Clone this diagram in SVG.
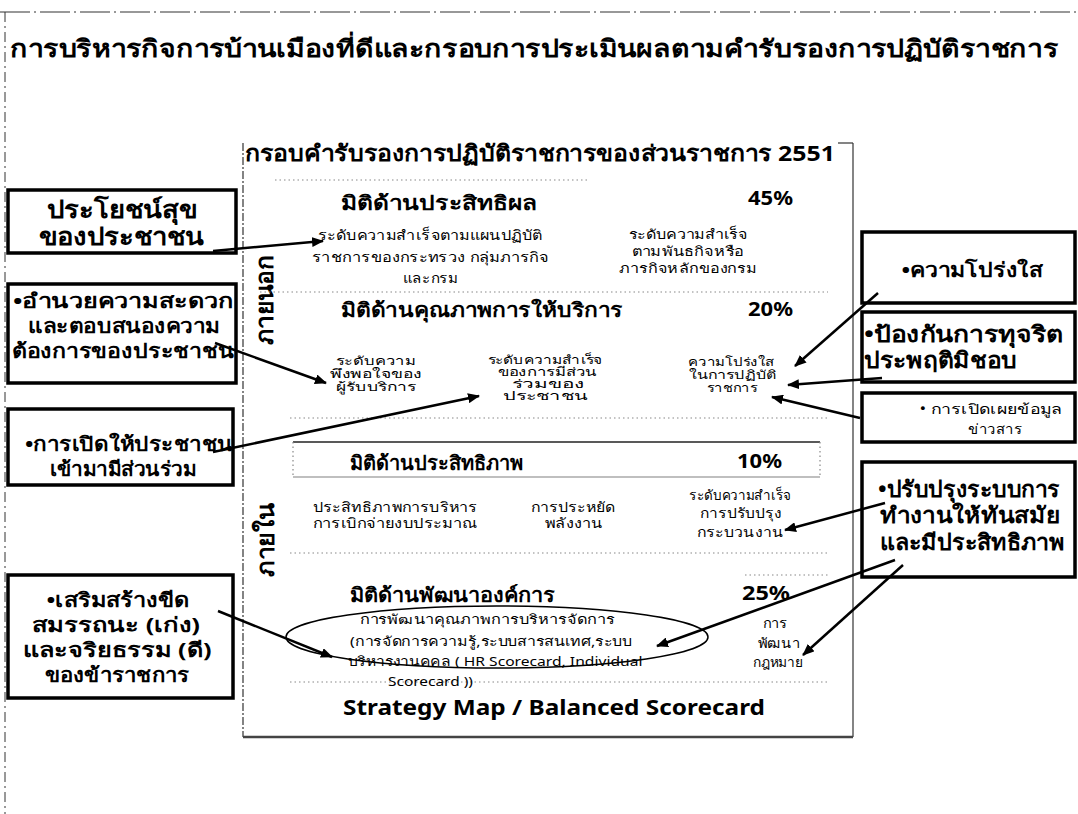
<svg xmlns="http://www.w3.org/2000/svg" width="1078" height="814" viewBox="0 0 1078 814">
<style>
text{font-family:"Noto Sans","DejaVu Sans",sans-serif;fill:#000}
.b{font-weight:bold}
.m{text-anchor:middle}
.box{fill:#fff;stroke:#000;stroke-width:3.5}
.dot{stroke:#888;stroke-width:1.2;stroke-dasharray:1.5 3;fill:none}
.frame{stroke:#333;stroke-width:1.2;fill:none}
.conn line{stroke:#000;stroke-width:2.5;marker-end:url(#ah)}
.t24{font-size:24px}.t22{font-size:22px}.t20{font-size:20px}.t18{font-size:18px}.t16{font-size:16px}.t14{font-size:14px}.t13{font-size:13px}.t12{font-size:12px}
</style>
<defs>
<marker id="ah" viewBox="0 0 12 10" refX="11" refY="5" markerWidth="12" markerHeight="10" markerUnits="userSpaceOnUse" orient="auto">
<path d="M0,0 L12,5 L0,10 Z" fill="#000"/>
</marker>
</defs>
<rect width="1078" height="814" fill="#fff"/>
<g id="page">
<line x1="0" y1="12" x2="1078" y2="12" stroke="#333" stroke-width="1.2" stroke-dasharray="30 4 2 4"/>
<line x1="5" y1="12" x2="5" y2="814" stroke="#333" stroke-width="1" stroke-dasharray="10 4 2 4"/>
<text class="b t24" x="10" y="57" textLength="1048" lengthAdjust="spacingAndGlyphs">การบริหารกิจการบ้านเมืองที่ดีและกรอบการประเมินผลตามคำรับรองการปฏิบัติราชการ</text>
</g>
<g id="frame">
<line class="frame" x1="243" y1="143" x2="243" y2="737" stroke-dasharray="8 2 2 2"/>
<line class="frame" x1="838" y1="143" x2="853" y2="143"/>
<line class="frame" x1="853" y1="143" x2="853" y2="737"/>
<line x1="243" y1="737" x2="853" y2="737" stroke="#444" stroke-width="2.5"/>
<text class="b t22" x="245" y="161" textLength="590" lengthAdjust="spacingAndGlyphs">กรอบคำรับรองการปฏิบัติราชการของส่วนราชการ 2551</text>
<text class="b t24" transform="translate(273,300) rotate(-90)" text-anchor="middle" textLength="90" lengthAdjust="spacingAndGlyphs">ภายนอก</text>
<text class="b t24" transform="translate(274,540) rotate(-90)" text-anchor="middle" textLength="74" lengthAdjust="spacingAndGlyphs">ภายใน</text>
<line class="dot" x1="275" y1="180" x2="590" y2="180"/>
<line class="dot" x1="260" y1="292" x2="828" y2="292"/>
<line class="dot" x1="290" y1="418" x2="828" y2="418"/>
<line class="dot" x1="290" y1="553" x2="828" y2="553"/>
<line class="dot" x1="290" y1="682" x2="828" y2="682"/>
<line class="dot" x1="745" y1="575" x2="828" y2="575"/>
</g>
<g id="effectiveness">
<text class="b t20" x="341" y="210" textLength="196" lengthAdjust="spacingAndGlyphs">มิติด้านประสิทธิผล</text>
<text class="b t20" x="748" y="205" textLength="45" lengthAdjust="spacingAndGlyphs">45%</text>
<text class="t14 m" x="430" y="240" textLength="225" lengthAdjust="spacingAndGlyphs">ระดับความสำเร็จตามแผนปฏิบัติ</text>
<text class="t14 m" x="430" y="262" textLength="236" lengthAdjust="spacingAndGlyphs">ราชการของกระทรวง กลุ่มภารกิจ</text>
<text class="t14 m" x="430" y="283" textLength="55" lengthAdjust="spacingAndGlyphs">และกรม</text>
<text class="t13 m" x="688" y="239" textLength="119" lengthAdjust="spacingAndGlyphs">ระดับความสำเร็จ</text>
<text class="t13 m" x="688" y="256" textLength="113" lengthAdjust="spacingAndGlyphs">ตามพันธกิจหรือ</text>
<text class="t13 m" x="688" y="273" textLength="138" lengthAdjust="spacingAndGlyphs">ภารกิจหลักของกรม</text>
</g>
<g id="quality">
<text class="b t20" x="341" y="317" textLength="282" lengthAdjust="spacingAndGlyphs">มิติด้านคุณภาพการให้บริการ</text>
<text class="b t20" x="748" y="316" textLength="45" lengthAdjust="spacingAndGlyphs">20%</text>
<text class="t12 m" x="376" y="365" textLength="80" lengthAdjust="spacingAndGlyphs">ระดับความ</text>
<text class="t12 m" x="376" y="378" textLength="92" lengthAdjust="spacingAndGlyphs">พึงพอใจของ</text>
<text class="t12 m" x="376" y="391" textLength="80" lengthAdjust="spacingAndGlyphs">ผู้รับบริการ</text>
<text class="t12 m" x="545" y="364" textLength="115" lengthAdjust="spacingAndGlyphs">ระดับความสำเร็จ</text>
<text class="t12 m" x="547" y="376" textLength="99" lengthAdjust="spacingAndGlyphs">ของการมีส่วน</text>
<text class="t12 m" x="548" y="388" textLength="73" lengthAdjust="spacingAndGlyphs">ร่วมของ</text>
<text class="t12 m" x="545" y="400" textLength="85" lengthAdjust="spacingAndGlyphs">ประชาชน</text>
<text class="t12 m" x="731" y="366" textLength="86" lengthAdjust="spacingAndGlyphs">ความโปร่งใส</text>
<text class="t12 m" x="733" y="379" textLength="88" lengthAdjust="spacingAndGlyphs">ในการปฏิบัติ</text>
<text class="t12 m" x="732" y="392" textLength="50" lengthAdjust="spacingAndGlyphs">ราชการ</text>
</g>
<g id="efficiency">
<line x1="293" y1="442" x2="820" y2="442" stroke="#222" stroke-width="1.5"/>
<line class="dot" x1="293" y1="442" x2="293" y2="477"/>
<line class="dot" x1="820" y1="442" x2="820" y2="477"/>
<line x1="293" y1="477" x2="820" y2="477" stroke="#aaa" stroke-width="1.5"/>
<text class="b t20" x="350" y="470" textLength="173" lengthAdjust="spacingAndGlyphs">มิติด้านประสิทธิภาพ</text>
<text class="b t20" x="737" y="468" textLength="45" lengthAdjust="spacingAndGlyphs">10%</text>
<text class="t14 m" x="395" y="512" textLength="165" lengthAdjust="spacingAndGlyphs">ประสิทธิภาพการบริหาร</text>
<text class="t14 m" x="395" y="528" textLength="165" lengthAdjust="spacingAndGlyphs">การเบิกจ่ายงบประมาณ</text>
<text class="t14 m" x="573" y="512" textLength="85" lengthAdjust="spacingAndGlyphs">การประหยัด</text>
<text class="t14 m" x="574" y="528" textLength="58" lengthAdjust="spacingAndGlyphs">พลังงาน</text>
<text class="t14 m" x="740" y="500" textLength="102" lengthAdjust="spacingAndGlyphs">ระดับความสำเร็จ</text>
<text class="t14 m" x="741" y="518" textLength="82" lengthAdjust="spacingAndGlyphs">การปรับปรุง</text>
<text class="t14 m" x="740" y="537" textLength="86" lengthAdjust="spacingAndGlyphs">กระบวนงาน</text>
</g>
<g id="development">
<text class="b t20" x="350" y="602" textLength="205" lengthAdjust="spacingAndGlyphs">มิติด้านพัฒนาองค์การ</text>
<text class="b t20" x="742" y="600" textLength="48" lengthAdjust="spacingAndGlyphs">25%</text>
<ellipse cx="497" cy="637" rx="211" ry="31" fill="none" stroke="#000" stroke-width="1.5"/>
<text class="t13 m" x="487" y="624" textLength="255" lengthAdjust="spacingAndGlyphs">การพัฒนาคุณภาพการบริหารจัดการ</text>
<text class="t13 m" x="491" y="646" textLength="282" lengthAdjust="spacingAndGlyphs">(การจัดการความรู้,ระบบสารสนเทศ,ระบบ</text>
<text class="t13 m" x="495" y="666" textLength="295" lengthAdjust="spacingAndGlyphs">บริหารงานคคล ( HR Scorecard, Individual</text>
<text class="t13" x="388" y="686" textLength="85" lengthAdjust="spacingAndGlyphs">Scorecard ))</text>
<text class="t14 m" x="775" y="628" textLength="25" lengthAdjust="spacingAndGlyphs">การ</text>
<text class="t14 m" x="779" y="648" textLength="42" lengthAdjust="spacingAndGlyphs">พัฒนา</text>
<text class="t14 m" x="778" y="667" textLength="50" lengthAdjust="spacingAndGlyphs">กฎหมาย</text>
<text class="b t22" x="343" y="715" textLength="422" lengthAdjust="spacingAndGlyphs">Strategy Map / Balanced Scorecard</text>
</g>
<g id="left1">
<rect class="box" x="8" y="190" width="228" height="63"/>
<text class="b t24 m" x="122" y="218" textLength="150" lengthAdjust="spacingAndGlyphs">ประโยชน์สุข</text>
<text class="b t24 m" x="121" y="245" textLength="165" lengthAdjust="spacingAndGlyphs">ของประชาชน</text>
</g>
<g id="left2">
<rect class="box" x="8" y="284" width="228" height="99"/>
<text class="b t20 m" x="123" y="308" textLength="220" lengthAdjust="spacingAndGlyphs">•อำนวยความสะดวก</text>
<text class="b t20 m" x="124" y="333" textLength="192" lengthAdjust="spacingAndGlyphs">และตอบสนองความ</text>
<text class="b t20 m" x="123" y="358" textLength="223" lengthAdjust="spacingAndGlyphs">ต้องการของประชาชน</text>
</g>
<g id="left3">
<rect class="box" x="8" y="409" width="225" height="76"/>
<text class="b t20 m" x="129" y="451" textLength="208" lengthAdjust="spacingAndGlyphs">•การเปิดให้ประชาชน</text>
<text class="b t20 m" x="123" y="476" textLength="147" lengthAdjust="spacingAndGlyphs">เข้ามามีส่วนร่วม</text>
</g>
<g id="left4">
<rect class="box" x="8" y="575" width="225" height="123"/>
<text class="b t20 m" x="118" y="607" textLength="143" lengthAdjust="spacingAndGlyphs">•เสริมสร้างขีด</text>
<text class="b t20 m" x="116" y="632" textLength="168" lengthAdjust="spacingAndGlyphs">สมรรถนะ (เก่ง)</text>
<text class="b t20 m" x="117" y="657" textLength="189" lengthAdjust="spacingAndGlyphs">และจริยธรรม (ดี)</text>
<text class="b t20 m" x="117" y="682" textLength="145" lengthAdjust="spacingAndGlyphs">ของข้าราชการ</text>
</g>
<g id="right1">
<rect class="box" x="862" y="232" width="213" height="71"/>
<text class="b t20 m" x="972" y="277" textLength="141" lengthAdjust="spacingAndGlyphs">•ความโปร่งใส</text>
</g>
<g id="right2">
<rect class="box" x="862" y="312" width="213" height="70"/>
<text class="b t22" x="864" y="342" textLength="199" lengthAdjust="spacingAndGlyphs">•ป้องกันการทุจริต</text>
<text class="b t22" x="864" y="368" textLength="153" lengthAdjust="spacingAndGlyphs">ประพฤติมิชอบ</text>
</g>
<g id="right3">
<rect class="box" x="862" y="393" width="213" height="49"/>
<text class="t14 m" x="991" y="414" textLength="143" lengthAdjust="spacingAndGlyphs">• การเปิดเผยข้อมูล</text>
<text class="t14 m" x="995" y="434" textLength="54" lengthAdjust="spacingAndGlyphs">ข่าวสาร</text>
</g>
<g id="right4">
<rect class="box" x="862" y="462" width="213" height="115"/>
<text class="b t22" x="878" y="497" textLength="182" lengthAdjust="spacingAndGlyphs">•ปรับปรุงระบบการ</text>
<text class="b t22" x="880" y="523" textLength="180" lengthAdjust="spacingAndGlyphs">ทำงานให้ทันสมัย</text>
<text class="b t22" x="880" y="550" textLength="185" lengthAdjust="spacingAndGlyphs">และมีประสิทธิภาพ</text>
</g>
<g id="connectors" class="conn">
<line x1="213" y1="251" x2="323" y2="241"/>
<line x1="215" y1="343" x2="326" y2="383"/>
<line x1="213" y1="452" x2="479" y2="396"/>
<line x1="218" y1="611" x2="332" y2="657"/>
<line x1="878" y1="293" x2="795" y2="366"/>
<line x1="882" y1="378" x2="788" y2="385"/>
<line x1="860" y1="418" x2="772" y2="397"/>
<line x1="885" y1="503" x2="785" y2="530"/>
<line x1="895" y1="560" x2="657" y2="646"/>
<line x1="903" y1="565" x2="803" y2="655"/>
</g>
</svg>
